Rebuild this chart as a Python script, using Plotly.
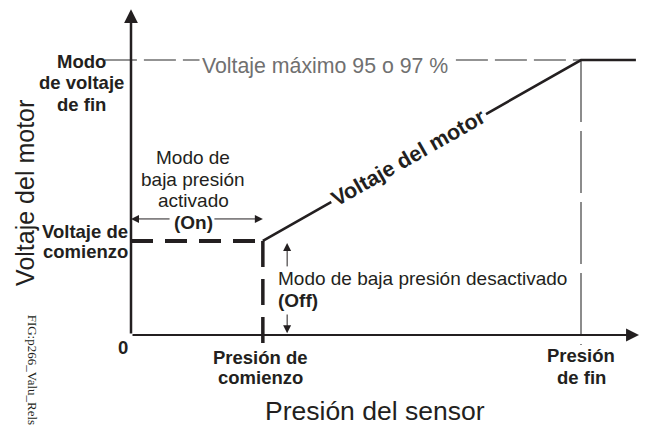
import plotly.graph_objects as go

# Values in percent: pressure of the end pressure, voltage of the max voltage
pressure_curve = [29.3, 100, 112.2]
voltage_curve = [34.2, 100, 100]
p_start = 29.3
p_end = 100
v_start = 34.2
v_max = 100
x_axis_end = 112.9
y_axis_end = 118.5

INK = '#231f20'
GRAY = '#707070'
FONT = 'Arial, Liberation Sans, sans-serif'

fig = go.Figure()

# low-pressure mode: constant start voltage (dashed)
fig.add_trace(go.Scatter(
    x=[0, p_start], y=[v_start, v_start], mode='lines',
    line=dict(color=INK, width=4, dash='22px,12px')
))
# start pressure marker (dashed, runs below the axis)
fig.add_trace(go.Scatter(
    x=[p_start, p_start], y=[v_start, -5.5], mode='lines',
    line=dict(color=INK, width=3.5, dash='26px,12px')
))
# max voltage guide and end pressure guide
fig.add_trace(go.Scatter(
    x=[-5.8, p_end], y=[v_max, v_max], mode='lines',
    line=dict(color=GRAY, width=1.6, dash='32px,7px')
))
fig.add_trace(go.Scatter(
    x=[p_end, p_end], y=[v_max, -3.6], mode='lines',
    line=dict(color=GRAY, width=1.6, dash='62px,9px')
))
# motor voltage curve
fig.add_trace(go.Scatter(
    x=pressure_curve, y=voltage_curve, mode='lines',
    line=dict(color=INK, width=2.6)
))

def arrow(x0, y0, x1, y1, width, size):
    fig.add_annotation(
        x=x1, y=y1, ax=x0, ay=y0, xref='x', yref='y', axref='x', ayref='y',
        text='', showarrow=True, arrowhead=2, arrowsize=size,
        arrowwidth=width, arrowcolor=INK, standoff=0, startstandoff=0
    )

# axes
arrow(0, 0, x_axis_end, 0, 2, 1.3)
arrow(0, 0, 0, y_axis_end, 2.5, 1.1)
# on / off arrows
arrow(8.9, 42.2, 0, 42.2, 1, 1.6)
arrow(18.2, 42.2, p_start, 42.2, 1, 1.6)
arrow(34.7, 24.4, 34.7, 33.5, 1, 1.6)
arrow(34.7, 8.0, 34.7, 0.6, 1, 1.6)

def label(x, y, text, size=18, color=INK, angle=0, family=FONT,
          xanchor='center', bg=None):
    fig.add_annotation(
        x=x, y=y, xref='x', yref='y', text=text, showarrow=False,
        font=dict(size=size, color=color, family=family),
        textangle=angle, xanchor=xanchor, yanchor='middle',
        bgcolor=bg, borderpad=2
    )

def block(x, y_top, lines, step=7.8, size=18.5, xanchor='center'):
    for i, line in enumerate(lines):
        label(x, y_top - i * step, line, size=size, xanchor=xanchor)

block(-11.1, 99.6, ['<b>Modo</b>', '<b>de voltaje</b>', '<b>de fin</b>'])
block(-10.2, 37.8, ['<b>Voltaje de</b>', '<b>comienzo</b>'], step=7.3)
block(13.8, 64.4, ['Modo de', 'baja presión', 'activado', '<b>(On)</b>'], size=19)
block(32.0, 20.7, ['Modo de baja presión desactivado', '<b>(Off)</b>'],
      step=8.0, size=19, xanchor='left')
label(-1.8, -4.4, '<b>0</b>', size=18.5)
block(p_start - 0.6, -8.0, ['<b>Presión de</b>', '<b>comienzo</b>'], step=7.3)
block(p_end, -7.6, ['<b>Presión</b>', '<b>de fin</b>'], step=7.7)
label(43.1, 97.8, 'Voltaje máximo 95 o 97 %', size=21.3, color=GRAY, bg='white')
label(61.6, 64.4, '<b>Voltaje del motor</b>', size=21.5, angle=-29.65, bg='white')
label(-23.6, 51.6, 'Voltaje del motor', size=25, angle=-90)
label(54.2, -27.6, 'Presión del sensor', size=26.5)
label(-22.0, -12.6, 'FIG:p266_Valu_Rels', size=13, angle=90,
      family='Liberation Serif, Times New Roman, serif')

# the page body adds an 8px offset, so the figure covers the window from (8, 8)
fig.update_layout(
    width=639, height=417,
    margin=dict(l=0, r=0, t=0, b=0, pad=0),
    paper_bgcolor='white', plot_bgcolor='white',
    showlegend=False, hovermode=False,
    xaxis=dict(range=[-123 / 4.5, 516 / 4.5], visible=False, fixedrange=True),
    yaxis=dict(range=[-90 / 2.75, 327 / 2.75], visible=False, fixedrange=True),
)

fig.write_html("out.html")
